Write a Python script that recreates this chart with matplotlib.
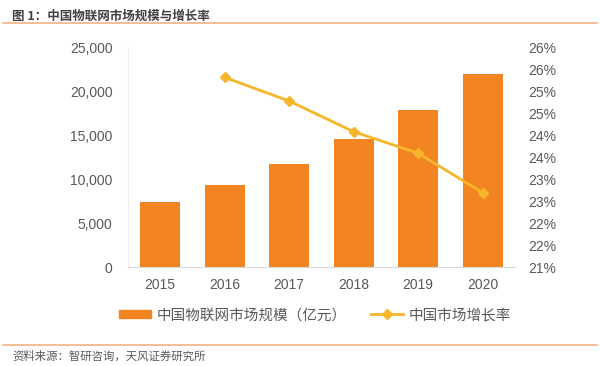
import matplotlib
matplotlib.use('Agg')
import matplotlib.pyplot as plt
from matplotlib.lines import Line2D
from matplotlib.patches import Patch
import numpy as np

plt.rcParams['font.family'] = ['Liberation Sans', 'Noto Sans CJK SC', 'DejaVu Sans']

# 数据
years = ['2015', '2016', '2017', '2018', '2019', '2020']
market_size = [7450, 9350, 11750, 14600, 17900, 22000]   # 亿元
growth_years = ['2016', '2017', '2018', '2019', '2020']
growth_rate = [25.33, 24.79, 24.09, 23.60, 22.70]        # %

right_ticks = [21, 21.5, 22, 22.5, 23, 23.5, 24, 24.5, 25, 25.5, 26]

bar_color = '#F28522'
line_color = '#F7B52C'
text_color = '#595959'
cjk = ['Noto Sans CJK SC', 'DejaVu Sans']

fig = plt.figure(figsize=(6, 3.66), dpi=100)
ax = fig.add_axes([0.213, 0.270, 0.645, 0.599])
ax2 = ax.twinx()

x = np.arange(len(years))
ax.bar(x, market_size, width=0.62, color=bar_color, zorder=2)
xg = [years.index(y) for y in growth_years]
ax2.plot(xg, growth_rate, color=line_color, lw=2, marker='D', ms=5.5, zorder=3)

ax.set_xlim(-0.5, len(years) - 0.5)
ax.set_ylim(0, 25000)
ax.set_yticks(range(0, 25001, 5000))
ax.set_yticklabels([f'{v:,}' for v in range(0, 25001, 5000)])
ax.set_xticks(x)
ax.set_xticklabels(years)

ax2.set_ylim(21, 26)
ax2.set_yticks(right_ticks)
ax2.set_yticklabels([f'{int(np.floor(t + 0.5))}%' for t in right_ticks])

for a in (ax, ax2):
    for s in a.spines.values():
        s.set_visible(False)
    a.tick_params(length=0, labelsize=10, labelcolor=text_color)
ax.spines['left'].set_visible(True)
ax.spines['left'].set_color('#EDEDED')
ax.spines['bottom'].set_visible(True)
ax.spines['bottom'].set_color('#D9D9D9')
ax.tick_params(axis='y', pad=11)
ax.tick_params(axis='x', pad=8)
ax2.tick_params(axis='y', pad=10)

# 图例
handles = [Patch(color=bar_color),
           Line2D([0], [0], color=line_color, lw=2, marker='D', ms=5)]
labels = ['中国物联网市场规模（亿元）', '中国市场增长率']
fig.legend(handles, labels, loc='center', bbox_to_anchor=(0.525, 0.139),
           ncol=2, frameon=False, prop={'family': cjk, 'size': 10.5},
           handlelength=2.2, handleheight=0.5, columnspacing=1.6,
           handletextpad=0.4, labelcolor=text_color)

# 标题和来源
fig.text(0.02, 0.972, '图 1：中国物联网市场规模与增长率', fontsize=9, fontweight='bold',
         color='#404040', family=cjk, va='top')
fig.add_artist(Line2D([0.005, 0.995], [0.937, 0.937], color='#F4B183', lw=1.2))
fig.add_artist(Line2D([0.005, 0.995], [0.057, 0.057], color='#F4B183', lw=1.2))
fig.text(0.02, 0.027, '资料来源：智研咨询，天风证券研究所', fontsize=8.2,
         color=text_color, family=cjk, va='center')

fig.savefig('out.png', dpi=100)
